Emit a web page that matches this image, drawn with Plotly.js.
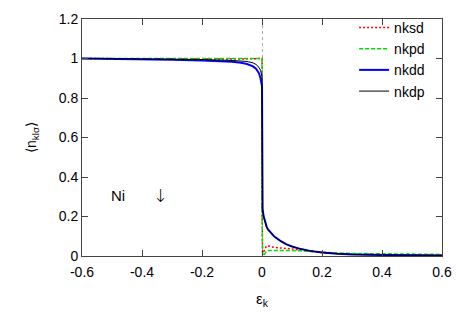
<!DOCTYPE html>
<html>
<head>
<meta charset="utf-8">
<script src="https://cdn.plot.ly/plotly-3.0.1.min.js"></script>
<style>html,body{margin:0;padding:0;background:#fff;}#chart{width:463px;height:323px;}</style>
</head>
<body>
<div id="chart"></div>
<script>
// ---- data ----
const seriesNames = ["nksd", "nkpd", "nkdd", "nkdp"];

const xSd = [-0.6, -0.5, -0.4, -0.3, -0.2, -0.1, -0.05, -0.01, 0, 0, 0.002, 0.008, 0.014, 0.019, 0.03, 0.05, 0.08, 0.1, 0.13, 0.17, 0.2, 0.25, 0.3, 0.4, 0.5, 0.6];
const ySd = [1.0, 0.999, 0.997, 0.996, 0.996, 0.997, 0.998, 0.999, 1.0, 0.24, 0.005, 0.03, 0.048, 0.053, 0.046, 0.042, 0.04, 0.036, 0.03, 0.022, 0.018, 0.013, 0.01, 0.007, 0.006, 0.005];

const xPd = [-0.6, -0.5, -0.4, -0.3, -0.2, -0.1, -0.05, -0.01, 0, 0, 0.002, 0.008, 0.014, 0.02, 0.05, 0.1, 0.13, 0.17, 0.2, 0.25, 0.3, 0.4, 0.5, 0.6];
const yPd = [1.0, 1.0, 0.999, 0.999, 0.999, 0.999, 0.999, 0.999, 1.0, 0.24, 0.004, 0.008, 0.022, 0.028, 0.029, 0.028, 0.026, 0.022, 0.018, 0.015, 0.013, 0.012, 0.009, 0.008];

const xDd = [-0.6, -0.5, -0.4, -0.3, -0.2, -0.15, -0.1, -0.07, -0.05, -0.03, -0.02, -0.01, -0.005, 0, 0, 0.002, 0.005, 0.01, 0.015, 0.02, 0.03, 0.04, 0.06, 0.08, 0.1, 0.13, 0.16, 0.2, 0.25, 0.3, 0.4, 0.5, 0.6];
const yDd = [1.0, 0.999, 0.997, 0.994, 0.99, 0.987, 0.983, 0.978, 0.972, 0.96, 0.948, 0.925, 0.9, 0.86, 0.28, 0.24, 0.205, 0.17, 0.15, 0.135, 0.115, 0.1, 0.078, 0.06, 0.048, 0.035, 0.026, 0.018, 0.012, 0.008, 0.005, 0.004, 0.003];

const xDp = [-0.6, -0.5, -0.4, -0.3, -0.2, -0.1, -0.05, -0.03, -0.02, -0.01, -0.005, 0, 0, 0.002, 0.005, 0.01, 0.015, 0.02, 0.03, 0.04, 0.06, 0.08, 0.1, 0.13, 0.16, 0.2, 0.25, 0.3, 0.4, 0.5, 0.6];
const yDp = [1.0, 0.999, 0.998, 0.997, 0.995, 0.99, 0.985, 0.978, 0.97, 0.955, 0.94, 0.91, 0.27, 0.235, 0.2, 0.168, 0.148, 0.133, 0.113, 0.099, 0.077, 0.06, 0.048, 0.035, 0.026, 0.018, 0.012, 0.008, 0.005, 0.004, 0.003];

const xTicks = [-0.6, -0.4, -0.2, 0, 0.2, 0.4, 0.6];
const xTickText = ["-0.6", "-0.4", "-0.2", "0", "0.2", "0.4", "0.6"];
const yTicks = [0, 0.2, 0.4, 0.6, 0.8, 1, 1.2];
const yTickText = ["0", "0.2", "0.4", "0.6", "0.8", "1", "1.2"];

const FONT = "Liberation Sans, Arial, sans-serif";

const traces = [
  {x: xSd, y: ySd, name: seriesNames[0], mode: "lines", line: {color: "#ff0000", width: 1.5, dash: "2px,2px"}},
  {x: xPd, y: yPd, name: seriesNames[1], mode: "lines", line: {color: "#00e000", width: 1.5, dash: "4px,2px"}},
  {x: xDd, y: yDd, name: seriesNames[2], mode: "lines", line: {color: "#0000ff", width: 2}},
  {x: xDp, y: yDp, name: seriesNames[3], mode: "lines", line: {color: "#000000", width: 1}},
  // helper axis for the dotted x=0 line
  {x: [0], y: [0], xaxis: "x2", mode: "markers", marker: {opacity: 0}, showlegend: false, hoverinfo: "skip"}
];

const layout = {
  width: 463, height: 323,
  margin: {l: 82, r: 21, t: 16, b: 67},
  paper_bgcolor: "#fff", plot_bgcolor: "#fff",
  font: {family: FONT, size: 14, color: "#000"},
  showlegend: true,
  legend: {x: 0.967, xanchor: "right", y: 1.03, yanchor: "top", bgcolor: "rgba(0,0,0,0)",
           font: {size: 14}, tracegroupgap: 0},
  xaxis: {range: [-0.6, 0.6], tickvals: xTicks, ticktext: xTickText, ticks: "inside", ticklen: 6,
          showline: true, linecolor: "#444", linewidth: 1, mirror: "ticks", showgrid: false, zeroline: false,
          tickfont: {size: 14}, ticklabelstandoff: 3,
          title: {text: "ε<sub>k</sub>", font: {size: 15}, standoff: 14}},
  xaxis2: {range: [-0.6, 0.6], overlaying: "x", tickvals: [0], showticklabels: false, ticks: "",
           showgrid: true, gridcolor: "#aaa", griddash: "dot", gridwidth: 1, zeroline: false, showline: false},
  yaxis: {range: [0, 1.2], tickvals: yTicks, ticktext: yTickText, ticks: "inside", ticklen: 6,
          showline: true, linecolor: "#444", linewidth: 1, mirror: "ticks", showgrid: false, zeroline: false,
          tickfont: {size: 14},
          title: {text: "⟨n<sub>klσ</sub>⟩", font: {size: 14}, standoff: 18}},
  annotations: [
    {x: -0.48, y: 0.305, xref: "x", yref: "y", text: "Ni", showarrow: false, font: {size: 15}},
    {x: -0.34, y: 0.305, xref: "x", yref: "y", text: "↓", showarrow: false, font: {size: 18, family: "DejaVu Sans ExtraLight, DejaVu Sans Light, DejaVu Sans", weight: 200}}
  ]
};

Plotly.newPlot("chart", traces, layout, {displayModeBar: false, staticPlot: true});
</script>
</body>
</html>
